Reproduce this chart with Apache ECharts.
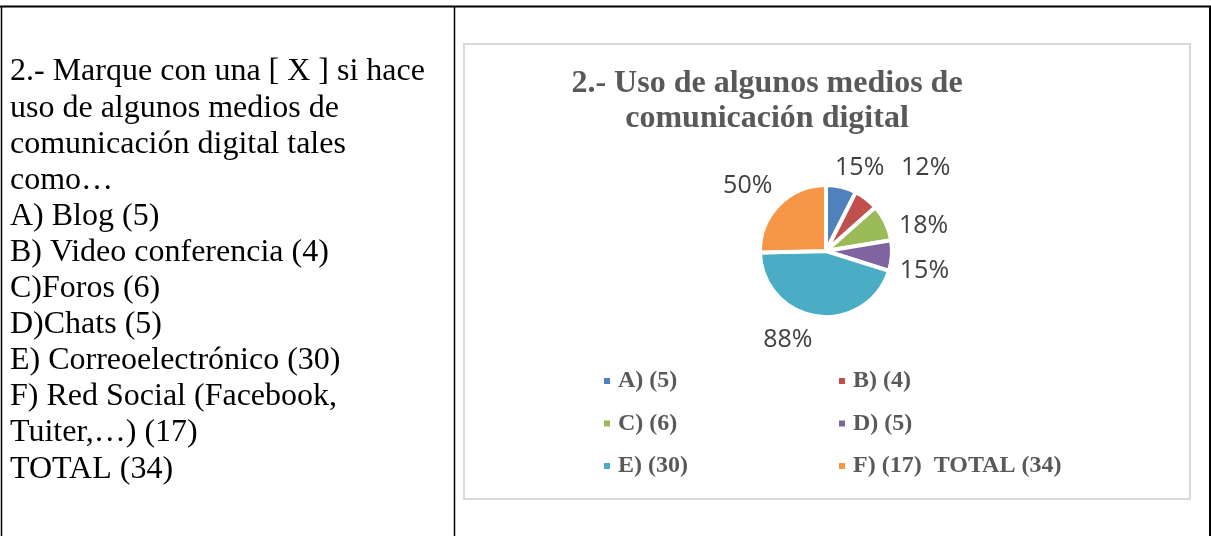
<!DOCTYPE html>
<html>
<head>
<meta charset="utf-8">
<script src="https://cdn.jsdelivr.net/npm/echarts@6/dist/echarts.min.js"></script>
<style>
    html, body { margin: 0; padding: 0; background: #ffffff; }
    #main { width: 1211px; height: 536px; }
</style>
</head>
<body>
<div id="main"></div>
<script>
// datos de la pregunta 2
var categories = ['A) (5)', 'B) (4)', 'C) (6)', 'D) (5)', 'E) (30)', 'F) (17)  TOTAL (34)']
var values = [5, 4, 6, 5, 30, 17]
var totalEncuestados = 34
var opciones = ['A) Blog', 'B) Video conferencia', 'C)Foros', 'D)Chats', 'E) Correoelectrónico', 'F) Red Social (Facebook,\nTuiter,…)']
var pregunta = ['2.- Marque con una [ X ] si hace', 'uso de algunos medios de', 'comunicación digital tales', 'como…']
var titulo = '2.- Uso de algunos medios de\ncomunicación digital'

var colors = ['#4F81BD', '#C0504D', '#9BBB59', '#8064A2', '#4BACC6', '#F79646']
// pequeños ajustes de las etiquetas (como en Excel)
var labelNudge = [[-15, -3], [20, -18], [-6, 10], [-13, 14], [3, 8], [10, -8]]

var element = document.querySelector('#main')
var myChart = echarts.init(element)

var textoIzquierda = () => {
    var lines = pregunta.slice()
    for (var i = 0; i < opciones.length; i++) {
        lines.push(opciones[i] + ' (' + values[i] + ')')
    }
    lines.push('TOTAL (' + totalEncuestados + ')')
    return lines.join('\n')
}

var leyenda = (names, left) => {
    return {
        data: names,
        orient: 'vertical',
        left: left,
        top: 369,
        padding: 0,
        itemGap: 18.5,
        itemWidth: 8,
        itemHeight: 8,
        icon: 'rect',
        selectedMode: false,
        textStyle: {
            fontFamily: 'Liberation Serif',
            fontWeight: 'bold',
            fontSize: 24,
            lineHeight: 24,
            color: '#595959',
            padding: [0, 0, 0, 2],
        },
    }
}

var template = () => {
    var data = []
    for (var i = 0; i < categories.length; i++) {
        data.push({name: categories[i], value: values[i]})
    }
    myChart.setOption({
        animation: false,
        color: colors,
        title: {
            text: titulo,
            left: 767,
            top: 66,
            padding: 0,
            textAlign: 'center',
            textStyle: {
                fontFamily: 'Liberation Serif',
                fontWeight: 'bold',
                fontSize: 32,
                lineHeight: 35,
                color: '#595959',
            },
        },
        legend: [
            leyenda([categories[0], categories[2], categories[4]], 602),
            leyenda([categories[1], categories[3], categories[5]], 837),
        ],
        graphic: [
            {type: 'line', shape: {x1: 0, y1: 6.5, x2: 1211, y2: 6.5}, style: {stroke: '#000', lineWidth: 2}},
            {type: 'line', shape: {x1: 1.5, y1: 6, x2: 1.5, y2: 536}, style: {stroke: '#000', lineWidth: 1.5}},
            {type: 'line', shape: {x1: 454.5, y1: 6, x2: 454.5, y2: 536}, style: {stroke: '#000', lineWidth: 1.5}},
            {type: 'line', shape: {x1: 1210, y1: 6, x2: 1210, y2: 536}, style: {stroke: '#000', lineWidth: 2}},
            {type: 'rect', shape: {x: 464, y: 44, width: 726, height: 455}, style: {fill: 'none', stroke: '#d9d9d9', lineWidth: 2}},
            {
                type: 'text',
                x: 10,
                y: 54,
                style: {
                    text: textoIzquierda(),
                    fontFamily: 'Liberation Serif',
                    fontSize: 32,
                    lineHeight: 36.1,
                    fill: '#000',
                    align: 'left',
                    verticalAlign: 'top',
                },
            },
        ],
        series: [
            {
                type: 'pie',
                center: [826, 251],
                radius: 66,
                startAngle: 90,
                clockwise: true,
                avoidLabelOverlap: false,
                itemStyle: {borderColor: '#ffffff', borderWidth: 4},
                emphasis: {disabled: true},
                label: {
                    show: true,
                    position: 'outside',
                    fontFamily: 'Open Sans',
                    fontSize: 25,
                    color: '#404040',
                    formatter: (p) => Math.round(p.value / totalEncuestados * 100) + '%',
                },
                labelLine: {show: false, length: 16, length2: 0},
                labelLayout: (p) => {
                    var n = labelNudge[p.dataIndex]
                    return {dx: n[0], dy: n[1]}
                },
                data: data,
            },
        ],
    })
}

var __main = () => {
    template()
}

__main()
</script>
</body>
</html>
